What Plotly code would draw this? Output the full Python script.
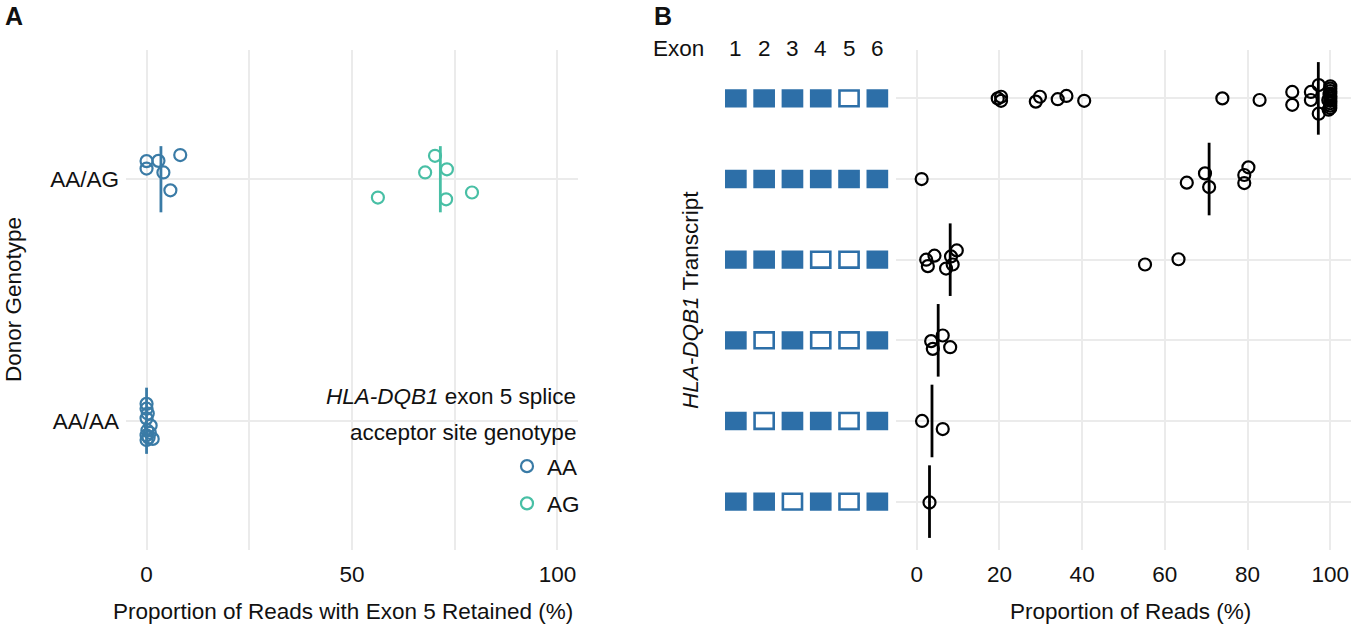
import numpy as np
import plotly.graph_objects as go

W, H = 1351, 630
FONT = "Liberation Sans, Arial, Helvetica, sans-serif"
FS = 22.5
AA_COL = "#3a7ba6"
AG_COL = "#48bfa5"
BOX_COL = "#2d6fa8"
GRID = "#ebebeb"
config = {'showLink': False, 'displayModeBar': False}

# ---- panel A data (x = % reads retaining exon 5, dy = vertical jitter) ----
geno_labels = ["AA/AA", "AA/AG"]
aa_aa_x = [0, 0, 0.3, 0, 1.0, 0.2, 0, 0.5, 1.5, 0, 0.8]
aa_aa_dy = [0.07, 0.05, 0.03, 0.01, -0.02, -0.04, -0.06, -0.07, -0.075, -0.08, -0.05]
aa_ag_x = [0, 0, 2.9, 4.1, 8.2, 5.8]
aa_ag_dy = [0.075, 0.044, 0.076, 0.028, 0.1, -0.046]
ag_ag_x = [70.2, 67.8, 73.1, 72.9, 56.3, 79.2]
ag_ag_dy = [0.097, 0.028, 0.041, -0.083, -0.076, -0.055]
med_a = {"AA/AA": 0.0, "AA/AG AA": 3.5, "AA/AG AG": 71.5}

# ---- panel B data (transcripts top to bottom) ----
exons = [1, 2, 3, 4, 5, 6]
transcript_exons = [
    [1, 1, 1, 1, 0, 1],
    [1, 1, 1, 1, 1, 1],
    [1, 1, 1, 0, 0, 1],
    [1, 0, 1, 0, 0, 1],
    [1, 0, 1, 1, 0, 1],
    [1, 1, 0, 1, 0, 1],
]
t1_x = [19.6, 20.4, 20.4, 28.8, 29.8, 34.1, 36.2, 40.5, 73.9, 82.9, 90.8, 90.8, 95.3, 95.3, 97.2, 97.2,
        100, 100, 100, 100, 100, 100, 100, 100, 100, 100, 99.6, 99.8, 99.5]
t1_dy = [0, 0.02, -0.03, -0.04, 0.02, -0.01, 0.03, -0.03, 0, -0.02, 0.08, -0.08, 0.08, -0.02, 0.165, -0.19,
         0.15, 0.12, 0.09, 0.06, 0.03, 0, -0.03, -0.06, -0.09, -0.12, -0.14, 0.05, -0.02]
t2_x = [1.2, 65.3, 69.7, 70.7, 79.2, 79.2, 80.2]
t2_dy = [0, -0.045, 0.07, -0.10, 0.05, -0.05, 0.145]
t3_x = [2.3, 2.7, 4.3, 7.1, 8.3, 8.7, 9.7, 55.2, 63.3]
t3_dy = [0, -0.08, 0.05, -0.11, 0.04, -0.06, 0.115, -0.06, 0.005]
t4_x = [3.5, 6.3, 3.9, 8.1]
t4_dy = [-0.01, 0.06, -0.106, -0.085]
t5_x = [1.3, 6.3]
t5_dy = [0, -0.1]
t6_x = [3.1]
t6_dy = [-0.01]
med_b = [97.1, 70.7, 8.1, 5.2, 3.7, 3.1]

b_x = [t1_x, t2_x, t3_x, t4_x, t5_x, t6_x]
b_dy = [t1_dy, t2_dy, t3_dy, t4_dy, t5_dy, t6_dy]


def px(p):
    return p / W


def py(p):
    return 1 - p / H


def label(x, y, text, **kw):
    d = dict(x=px(x), y=py(y), xref="paper", yref="paper", text=text, showarrow=False,
             xanchor="center", yanchor="middle", font=dict(size=FS))
    d.update(kw)
    return d


fig = go.Figure()

# panel A points
circ = dict(symbol="circle-open", size=12, line=dict(width=2.2))
fig.add_trace(go.Scatter(x=aa_aa_x, y=1 + np.array(aa_aa_dy), mode="markers", name="AA",
                         legendgroup="AA", showlegend=False, marker=dict(circ, color=AA_COL),
                         xaxis="x", yaxis="y"))
fig.add_trace(go.Scatter(x=aa_ag_x, y=2 + np.array(aa_ag_dy), mode="markers", name="AA",
                         legendgroup="AA", marker=dict(circ, color=AA_COL),
                         xaxis="x", yaxis="y"))
fig.add_trace(go.Scatter(x=ag_ag_x, y=2 + np.array(ag_ag_dy), mode="markers", name="AG",
                         legendgroup="AG", marker=dict(circ, color=AG_COL),
                         xaxis="x", yaxis="y"))

half_a = 0.137
for val, row, col in [(med_a["AA/AA"], 1, AA_COL), (med_a["AA/AG AA"], 2, AA_COL), (med_a["AA/AG AG"], 2, AG_COL)]:
    fig.add_trace(go.Scatter(x=[val, val], y=[row - half_a, row + half_a], mode="lines",
                             line=dict(color=col, width=2.8), showlegend=False, hoverinfo="skip",
                             xaxis="x", yaxis="y"))

# panel B points
n_t = len(transcript_exons)
half_b = 0.45
for i in range(n_t):
    row = n_t - i
    fig.add_trace(go.Scatter(x=b_x[i], y=row + np.array(b_dy[i]), mode="markers", showlegend=False,
                             marker=dict(circ, color="black"), xaxis="x2", yaxis="y2"))
    fig.add_trace(go.Scatter(x=[med_b[i], med_b[i]], y=[row - half_b, row + half_b], mode="lines",
                             line=dict(color="black", width=2.8), showlegend=False, hoverinfo="skip",
                             xaxis="x2", yaxis="y2"))

# exon boxes as transcript labels
shapes = []
bw, bh = 0.383, 0.114
for i, present in enumerate(transcript_exons):
    row = n_t - i
    for e, p in zip(exons, present):
        if p:
            shapes.append(dict(type="rect", xref="x3", yref="y3", x0=e - bw, x1=e + bw,
                               y0=row - bh, y1=row + bh, fillcolor=BOX_COL, line=dict(width=0)))
        else:
            shapes.append(dict(type="rect", xref="x3", yref="y3", x0=e - bw + 0.045, x1=e + bw - 0.045,
                               y0=row - bh + 0.016, y1=row + bh - 0.016, fillcolor="white",
                               line=dict(color=BOX_COL, width=2.6)))

ann = []
for e in exons:
    ann.append(dict(x=e, y=py(49), xref="x3", yref="paper", text=str(e), showarrow=False,
                    xanchor="center", yanchor="middle", font=dict(size=FS)))
ann += [
    label(678, 49, "Exon"),
    label(3, 16, "<b>A</b>", xanchor="left", font=dict(size=25)),
    label(652, 16, "<b>B</b>", xanchor="left", font=dict(size=25)),
    label(13, 300, "Donor Genotype", textangle=-90),
    label(690, 300, "<i>HLA-DQB1</i> Transcript", textangle=-90),
    label(343, 611, "Proportion of Reads with Exon 5 Retained (%)"),
    label(1130, 611, "Proportion of Reads (%)"),
    label(578, 396, "<i>HLA-DQB1</i> exon 5 splice", xanchor="right"),
    label(578, 432, "acceptor site genotype", xanchor="right"),
]

fig.update_layout(
    width=W, height=H,
    margin=dict(l=0, r=0, t=0, b=0),
    paper_bgcolor="white", plot_bgcolor="white",
    font=dict(family=FONT, size=FS, color="#111111"),
    showlegend=True,
    legend=dict(x=px(585), y=py(445), xanchor="right", yanchor="top", bgcolor="rgba(0,0,0,0)",
                font=dict(size=FS), tracegroupgap=5, itemwidth=30),
    shapes=shapes,
    annotations=ann,
    xaxis=dict(domain=[px(126), px(578)], range=[-5, 105], tickvals=[0, 50, 100],
               showgrid=True, gridcolor=GRID, gridwidth=1.5, zeroline=False, showline=False,
               minor=dict(tickvals=[25, 75], showgrid=True, gridcolor=GRID, gridwidth=1.5),
               ticks="", ticklabelstandoff=8, anchor="y"),
    yaxis=dict(domain=[py(550), py(50)], range=[0.465, 2.535], tickvals=[1, 2], ticktext=geno_labels,
               showgrid=True, gridcolor=GRID, gridwidth=1.5, zeroline=False, showline=False,
               ticks="", ticklabelstandoff=6, anchor="x"),
    xaxis2=dict(domain=[px(896), 1.0], range=[-5, 105], tickvals=[0, 20, 40, 60, 80, 100],
                showgrid=True, gridcolor=GRID, gridwidth=1.5, zeroline=False, showline=False,
                ticks="", ticklabelstandoff=8, anchor="y2"),
    yaxis2=dict(domain=[py(550), py(50)], range=[0.4, 6.6], tickvals=list(range(1, n_t + 1)),
                showticklabels=False, showgrid=True, gridcolor=GRID, gridwidth=1.5,
                zeroline=False, showline=False, ticks="", anchor="x2"),
    xaxis3=dict(domain=[px(721.7), px(891.5)], range=[0.5, 6.5], visible=False, anchor="y3"),
    yaxis3=dict(domain=[py(550), py(50)], range=[0.4, 6.6], visible=False, anchor="x3"),
)

# drop the default 8px page margin so the figure fills the window exactly
fig.write_html("out.html", config=config, post_script="document.body.style.margin='0';")
